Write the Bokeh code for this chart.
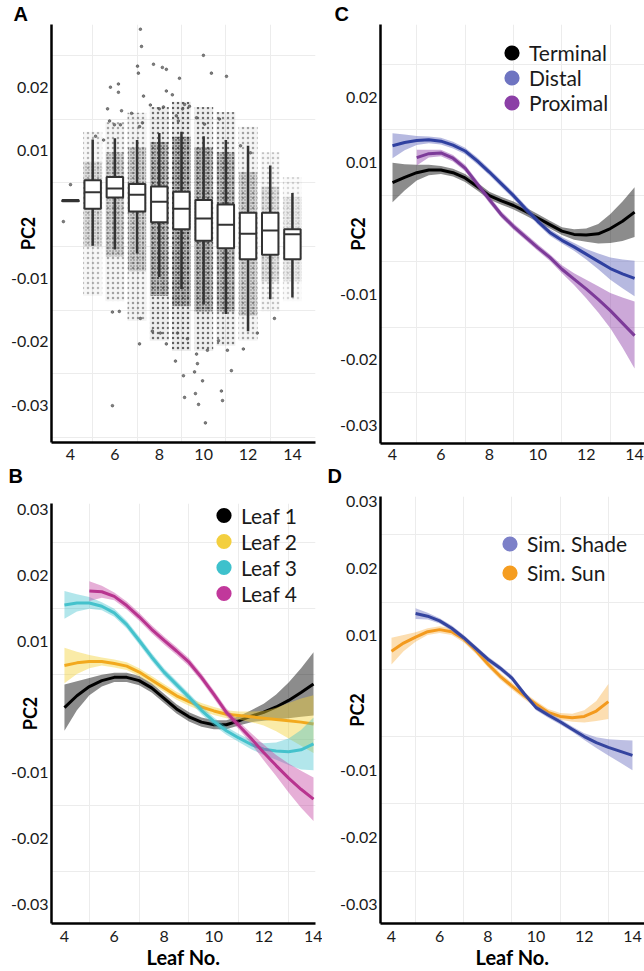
from bokeh.plotting import figure
from bokeh.models import Range1d, FixedTicker, PrintfTickFormatter, Legend, LegendItem, Title
from bokeh.layouts import row, column
from bokeh.embed import file_html
from bokeh.resources import INLINE

FONT = "Lato"
LETTER_FONT = "Liberation Sans"

# ---------------- Panel A : box plots of PC2 by leaf number ----------------
box_leaf = [4, 5, 6, 7, 8, 9, 10, 11, 12, 13, 14]
box_q3 = [0.0023, 0.0054, 0.0059, 0.0048, 0.0044, 0.0036, 0.0023, 0.0016, 0.0003, 0.0003, -0.0023]
box_med = [0.0022, 0.0035, 0.0041, 0.0031, 0.0020, 0.0009, -0.0006, -0.0016, -0.0030, -0.0025, -0.0031]
box_q1 = [0.0021, 0.0009, 0.0027, 0.0005, -0.0012, -0.0023, -0.0041, -0.0053, -0.0070, -0.0063, -0.0070]
box_whi = [0.0022, 0.0118, 0.0120, 0.0117, 0.0128, 0.0130, 0.0123, 0.0117, 0.0108, 0.0077, 0.0034]
box_wlo = [0.0022, -0.0049, -0.0055, -0.0061, -0.0098, -0.0117, -0.0141, -0.0156, -0.0183, -0.0133, -0.0130]

# extent / density of the jittered point cloud per leaf
cloud_leaf = [5, 6, 7, 8, 9, 10, 11, 12, 13, 14]
cloud_outer_hi = [0.0130, 0.0145, 0.0160, 0.0169, 0.0177, 0.0169, 0.0161, 0.0138, 0.0098, 0.0059]
cloud_outer_lo = [-0.0128, -0.0136, -0.0167, -0.0198, -0.0214, -0.0214, -0.0206, -0.0198, -0.0152, -0.0136]
cloud_inner_hi = [0.0083, 0.0098, 0.0106, 0.0114, 0.0122, 0.0106, 0.0098, 0.0067, 0.0044, 0.0028]
cloud_inner_lo = [-0.0050, -0.0066, -0.0089, -0.0128, -0.0144, -0.0152, -0.0152, -0.0159, -0.0105, -0.0105]
cloud_density = [0.22, 0.28, 0.30, 0.45, 0.50, 0.45, 0.40, 0.28, 0.18, 0.12]

# isolated points
pts_x = [7.15, 7.20, 7.02, 7.06, 7.74, 8.14, 8.32, 9.99, 10.35, 11.03,
         5.80, 6.16, 6.16, 7.29, 8.32, 8.59, 8.91, 7.60, 8.00, 8.19,
         9.05, 9.14, 9.36, 5.67, 6.30, 6.75, 5.76, 5.98, 6.25, 7.24,
         7.11, 9.68, 10.71, 10.04, 8.86, 8.77, 11.66, 12.11, 5.13, 5.49,
         5.89, 10.08, 9.77, 9.14, 9.63, 10.80, 10.85, 9.95, 9.09, 9.59,
         11.25, 8.73, 9.72, 9.68, 7.11, 8.32, 10.17, 11.79, 11.07, 13.19,
         5.89, 6.20, 7.69, 8.05, 9.27, 10.67, 12.42, 8.82, 7.15, 4.00, 3.68]
pts_y = [0.0291, 0.0264, 0.0233, 0.0222, 0.0236, 0.0231, 0.0228, 0.0250, 0.0222, 0.0217,
         0.0200, 0.0205, 0.0192, 0.0186, 0.0194, 0.0188, 0.0214, 0.0172, 0.0166, 0.0169,
         0.0166, 0.0173, 0.0170, 0.0166, 0.0163, 0.0159, 0.0147, 0.0141, 0.0141, 0.0144,
         0.0138, 0.0152, 0.0150, 0.0142, 0.0147, 0.0155, 0.0108, 0.0097, 0.0123, 0.0117,
         -0.0300, -0.0327, -0.0298, -0.0287, -0.0281, -0.0277, -0.0292, -0.0261, -0.0253, -0.0247,
         -0.0245, -0.0230, -0.0234, -0.0219, -0.0203, -0.0203, -0.0213, -0.0211, -0.0213, -0.0163,
         -0.0153, -0.0152, -0.0183, -0.0186, -0.0195, -0.0198, -0.0186, -0.0186, -0.0163, 0.0047, -0.0011]

# ---------------- sample positions along leaf number ----------------
xs_4_14 = [4, 4.5, 5, 5.5, 6, 6.5, 7, 7.5, 8, 8.5, 9, 9.5, 10, 10.5, 11, 11.5, 12, 12.5, 13, 13.5, 14]
xs_5_14 = [5, 5.5, 6, 6.5, 7, 7.5, 8, 8.5, 9, 9.5, 10, 10.5, 11, 11.5, 12, 12.5, 13, 13.5, 14]
xs_4_13 = [4, 4.5, 5, 5.5, 6, 6.5, 7, 7.5, 8, 8.5, 9, 9.5, 10, 10.5, 11, 11.5, 12, 12.5, 13]

# ---------------- Panel B : by leaf position ----------------
leaf1_y = [-0.0001, 0.0017, 0.0031, 0.0040, 0.0045, 0.0045, 0.0040, 0.0029, 0.0013, -0.0003, -0.0015,
           -0.0023, -0.0027, -0.0027, -0.0021, -0.0014, -0.0008, 0.0000, 0.0010, 0.0022, 0.0035]
leaf1_se = [0.0035, 0.0022, 0.0013, 0.0009, 0.0007, 0.0007, 0.0007, 0.0007, 0.0007, 0.0007, 0.0007,
            0.0007, 0.0007, 0.0007, 0.0007, 0.0009, 0.0013, 0.0019, 0.0027, 0.0037, 0.0048]
leaf2_y = [0.0063, 0.0067, 0.0069, 0.0069, 0.0066, 0.0062, 0.0053, 0.0041, 0.0029, 0.0017, 0.0008,
           0.0000, -0.0006, -0.0011, -0.0013, -0.0015, -0.0017, -0.0019, -0.0021, -0.0023, -0.0026]
leaf2_se = [0.0027, 0.0017, 0.0010, 0.0006, 0.0006, 0.0006, 0.0006, 0.0006, 0.0006, 0.0006, 0.0006,
            0.0006, 0.0006, 0.0006, 0.0006, 0.0008, 0.0011, 0.0018, 0.0027, 0.0036, 0.0044]
leaf3_y = [0.0155, 0.0158, 0.0158, 0.0153, 0.0143, 0.0125, 0.0101, 0.0076, 0.0053, 0.0034, 0.0015,
           -0.0005, -0.0022, -0.0036, -0.0047, -0.0057, -0.0064, -0.0067, -0.0068, -0.0065, -0.0056]
leaf3_se = [0.0021, 0.0013, 0.0009, 0.0006, 0.0006, 0.0006, 0.0006, 0.0006, 0.0006, 0.0006, 0.0006,
            0.0006, 0.0006, 0.0006, 0.0006, 0.0007, 0.0009, 0.0013, 0.0020, 0.0030, 0.0040]
leaf4_y = [0.0176, 0.0175, 0.0168, 0.0154, 0.0137, 0.0118, 0.0101, 0.0085, 0.0068, 0.0045,
           0.0019, -0.0008, -0.0028, -0.0048, -0.0069, -0.0089, -0.0108, -0.0125, -0.0140]
leaf4_se = [0.0015, 0.0009, 0.0006, 0.0006, 0.0006, 0.0006, 0.0006, 0.0006, 0.0006, 0.0006,
            0.0006, 0.0006, 0.0006, 0.0008, 0.0012, 0.0016, 0.0022, 0.0028, 0.0033]

# ---------------- Panel C : terminal / distal / proximal ----------------
term_y = [0.0070, 0.0078, 0.0085, 0.0089, 0.0089, 0.0085, 0.0077, 0.0064, 0.0050, 0.0042, 0.0035,
          0.0026, 0.0016, 0.0006, -0.0004, -0.0009, -0.0010, -0.0008, 0.0000, 0.0011, 0.0025]
term_se = [0.0030, 0.0020, 0.0012, 0.0008, 0.0006, 0.0006, 0.0006, 0.0006, 0.0006, 0.0006, 0.0006,
           0.0006, 0.0006, 0.0006, 0.0006, 0.0008, 0.0010, 0.0015, 0.0022, 0.0030, 0.0038]
dist_y = [0.0126, 0.0131, 0.0134, 0.0135, 0.0133, 0.0127, 0.0118, 0.0103, 0.0086, 0.0068, 0.0050,
          0.0030, 0.0011, -0.0006, -0.0018, -0.0028, -0.0039, -0.0050, -0.0061, -0.0069, -0.0076]
dist_se = [0.0019, 0.0012, 0.0007, 0.0005, 0.0005, 0.0005, 0.0005, 0.0005, 0.0005, 0.0005, 0.0005,
           0.0005, 0.0005, 0.0005, 0.0005, 0.0006, 0.0008, 0.0012, 0.0017, 0.0022, 0.0027]
prox_y = [0.0108, 0.0114, 0.0115, 0.0107, 0.0092, 0.0068, 0.0044, 0.0021, 0.0003, -0.0013,
          -0.0029, -0.0044, -0.0062, -0.0077, -0.0092, -0.0108, -0.0125, -0.0144, -0.0163]
prox_hi = [0.0120, 0.0120, 0.0120, 0.0112, 0.0097, 0.0073, 0.0049, 0.0026, 0.0008, -0.0008,
           -0.0024, -0.0039, -0.0056, -0.0068, -0.0078, -0.0088, -0.0098, -0.0105, -0.0111]
prox_lo = [0.0096, 0.0108, 0.0110, 0.0102, 0.0087, 0.0063, 0.0039, 0.0016, -0.0002, -0.0018,
           -0.0034, -0.0049, -0.0068, -0.0086, -0.0106, -0.0128, -0.0152, -0.0181, -0.0213]

# ---------------- Panel D : simulated shade / sun ----------------
shade_y = [0.0133, 0.0129, 0.0122, 0.0111, 0.0097, 0.0081, 0.0065, 0.0052, 0.0037, 0.0014,
           -0.0007, -0.0018, -0.0028, -0.0039, -0.0050, -0.0059, -0.0066, -0.0072, -0.0078]
shade_se = [0.0008, 0.0005, 0.0004, 0.0004, 0.0004, 0.0004, 0.0004, 0.0004, 0.0004, 0.0004,
            0.0004, 0.0004, 0.0004, 0.0004, 0.0005, 0.0008, 0.0012, 0.0017, 0.0022]
sun_y = [0.0077, 0.0089, 0.0098, 0.0106, 0.0109, 0.0106, 0.0095, 0.0078, 0.0058, 0.0040,
         0.0025, 0.0011, -0.0002, -0.0014, -0.0020, -0.0022, -0.0020, -0.0012, 0.0002]
sun_se = [0.0020, 0.0012, 0.0007, 0.0005, 0.0005, 0.0005, 0.0005, 0.0005, 0.0005, 0.0005,
          0.0005, 0.0005, 0.0005, 0.0005, 0.0005, 0.0006, 0.0009, 0.0015, 0.0026]

x_ticks = [4, 6, 8, 10, 12, 14]
y_ticks_ac = [0.02, 0.01, -0.01, -0.02, -0.03]
y_ticks_bd = [0.03, 0.02, 0.01, -0.01, -0.02, -0.03]
grid_x = [5, 7, 9, 11, 13]
grid_y = [0.025, 0.015, 0.005, -0.005, -0.015, -0.025, -0.035]


def letter_title(text, offset, standoff=0):
    return Title(text=text, align="left", offset=offset, standoff=standoff,
                 text_font=LETTER_FONT, text_font_size="20px", text_font_style="bold",
                 text_color="black")


def make_fig(g, yticks, xstand, pc2_standoff, xlabel=None):
    p = figure(width=g["w"], height=g["h"],
               x_range=Range1d(*g["xr"]), y_range=Range1d(*g["yr"]),
               min_border_left=g["L"], min_border_right=g["R"],
               min_border_top=g["T"], min_border_bottom=g["B"],
               output_backend="svg", toolbar_location=None)
    p.outline_line_color = None
    p.xaxis.ticker = FixedTicker(ticks=x_ticks)
    p.yaxis.ticker = FixedTicker(ticks=yticks)
    p.yaxis.formatter = PrintfTickFormatter(format="%.2f")
    for ax in (p.xaxis[0], p.yaxis[0]):
        ax.axis_line_width = 2.5
        ax.axis_line_color = "black"
        ax.major_tick_line_color = None
        ax.minor_tick_line_color = None
        ax.major_tick_out = 0
        ax.major_tick_in = 0
        ax.minor_tick_out = 0
        ax.minor_tick_in = 0
        ax.major_label_text_font = FONT
        ax.major_label_text_font_size = "16px"
        ax.major_label_text_color = "#1a1a1a"
        ax.axis_label_text_font = FONT
        ax.axis_label_text_font_style = "bold"
        ax.axis_label_text_color = "black"
    p.yaxis.major_label_standoff = 3
    p.yaxis.axis_label = "PC2"
    p.yaxis.axis_label_text_font_size = "18px"
    p.yaxis.axis_label_standoff = pc2_standoff
    p.xaxis.major_label_standoff = xstand
    if xlabel:
        p.xaxis.axis_label = xlabel
        p.xaxis.axis_label_text_font_size = "20px"
        p.xaxis.axis_label_standoff = 0
    p.xgrid.ticker = FixedTicker(ticks=grid_x)
    p.ygrid.ticker = FixedTicker(ticks=grid_y)
    p.grid.grid_line_color = "#ececec"
    p.grid.grid_line_width = 1
    return p


def add_legend(p, entries, loc, pitch, standoff):
    items = []
    for name, color, xs, ys in entries:
        # near-zero-size discs on the series' own points, only used for the legend swatch;
        # drawn before the curves so they stay hidden under them
        r = p.ellipse(xs, ys, width=0.3, height=0.3, width_units="screen", height_units="screen",
                      fill_color=color, line_color=None)
        items.append(LegendItem(label=name, renderers=[r]))
    lg = Legend(items=items, location=loc, glyph_width=19, glyph_height=pitch, spacing=0,
                label_height=pitch, padding=0, margin=0, label_standoff=standoff,
                background_fill_alpha=0, border_line_alpha=0, label_text_font=FONT,
                label_text_font_size="21px", label_text_color="#1a1a1a")
    p.add_layout(lg)


def smooth(p, xs, ys, se, line_color, band_color, band_alpha, lo=None, hi=None):
    if lo is None:
        lo = [a - b for a, b in zip(ys, se)]
        hi = [a + b for a, b in zip(ys, se)]
    p.varea(x=xs, y1=lo, y2=hi, fill_color=band_color, fill_alpha=band_alpha)
    p.line(xs, ys, line_color=line_color, line_width=3)


gA = dict(w=322, h=491, L=51, R=7, T=22, B=49, xr=(3.144, 15.04), yr=(-0.03578, 0.02984))
gB = dict(w=322, h=480, L=49, R=7, T=12, B=47, xr=(3.48, 14.08), yr=(-0.03288, 0.0309))
gC = dict(w=322, h=491, L=58, R=0, T=22, B=48, xr=(3.504, 14.41), yr=(-0.03273, 0.03106))
gD = dict(w=322, h=480, L=58, R=0, T=5, B=47, xr=(3.544, 14.50), yr=(-0.0328, 0.0307))

# ---------- A ----------
pA = make_fig(gA, y_ticks_ac, 6, -31)
pA.yaxis.axis_label_text_align = "left"
pA.add_layout(letter_title("A", -38), "above")
pA.add_layout(letter_title("B", -43), "below")
pA.quad(left=[v - 0.43 for v in cloud_leaf], right=[v + 0.43 for v in cloud_leaf],
        bottom=cloud_outer_lo, top=cloud_outer_hi, fill_color="black",
        fill_alpha=[d * 0.15 for d in cloud_density], line_color=None,
        hatch_pattern="dot", hatch_color="black", hatch_scale=5, hatch_weight=1.2,
        hatch_alpha=[min(1.0, d * 1.2) for d in cloud_density])
pA.quad(left=[v - 0.41 for v in cloud_leaf], right=[v + 0.41 for v in cloud_leaf],
        bottom=cloud_inner_lo, top=cloud_inner_hi, fill_color="black",
        fill_alpha=[d * 0.45 for d in cloud_density], line_color=None,
        hatch_pattern="dot", hatch_color="black", hatch_scale=3, hatch_weight=1.2,
        hatch_alpha=[min(1.0, d * 1.4) for d in cloud_density])
pA.scatter(pts_x, pts_y, size=2.6, color="#555555", alpha=0.75)
pA.segment(x0=box_leaf, y0=box_whi, x1=box_leaf, y1=box_q3, line_color="#333333", line_width=2.5)
pA.segment(x0=box_leaf, y0=box_wlo, x1=box_leaf, y1=box_q1, line_color="#333333", line_width=2.5)
pA.quad(left=[v - 0.37 for v in box_leaf], right=[v + 0.37 for v in box_leaf],
        bottom=box_q1, top=box_q3, fill_color="white", line_color="#333333", line_width=2)
pA.segment(x0=[v - 0.37 for v in box_leaf], y0=box_med, x1=[v + 0.37 for v in box_leaf], y1=box_med,
           line_color="#333333", line_width=2)

# ---------- C ----------
pC = make_fig(gC, y_ticks_ac, 5, -32)
pC.add_layout(letter_title("C", -46), "above")
pC.add_layout(letter_title("D", -53), "below")
add_legend(pC, [("Terminal", "black", xs_4_14, term_y),
                ("Distal", "#6e74c1", xs_4_14, dist_y),
                ("Proximal", "#8b3fa6", xs_5_14, prox_y)], (122, 328), 25, 8)
smooth(pC, xs_4_14, term_y, term_se, "black", "black", 0.45)
smooth(pC, xs_4_14, dist_y, dist_se, "#2f40a0", "#6e74c1", 0.5)
smooth(pC, xs_5_14, prox_y, None, "#7d3b99", "#8e3fa8", 0.45, lo=prox_lo, hi=prox_hi)

# ---------- B ----------
pB = make_fig(gB, y_ticks_bd, 7, -33, "Leaf No.")
add_legend(pB, [("Leaf 1", "black", xs_4_14, leaf1_y),
                ("Leaf 2", "#f3cf3f", xs_4_14, leaf2_y),
                ("Leaf 3", "#3ec1cc", xs_4_14, leaf3_y),
                ("Leaf 4", "#c1389b", xs_5_14, leaf4_y)], (163, 317), 26, 8)
smooth(pB, xs_4_14, leaf1_y, leaf1_se, "black", "black", 0.45)
smooth(pB, xs_4_14, leaf2_y, leaf2_se, "#f2a91e", "#f3d33c", 0.45)
smooth(pB, xs_4_14, leaf3_y, leaf3_se, "#45c2cc", "#3ec1cc", 0.4)
smooth(pB, xs_5_14, leaf4_y, leaf4_se, "#b8348f", "#c1389b", 0.4)

# ---------- D ----------
pD = make_fig(gD, y_ticks_bd, 7, -31, "Leaf No.")
add_legend(pD, [("Sim. Shade", "#7c80c8", xs_5_14, shade_y),
                ("Sim. Sun", "#f59d20", xs_4_13, sun_y)], (120, 336), 29, 8)
smooth(pD, xs_4_13, sun_y, sun_se, "#f39a1e", "#f5a020", 0.35)
smooth(pD, xs_5_14, shade_y, shade_se, "#34449f", "#7c80c8", 0.5)

layout = row(column(pA, pB), column(pC, pD))
open("out.html", "w").write(file_html(layout, INLINE, "PC2 by leaf number"))
